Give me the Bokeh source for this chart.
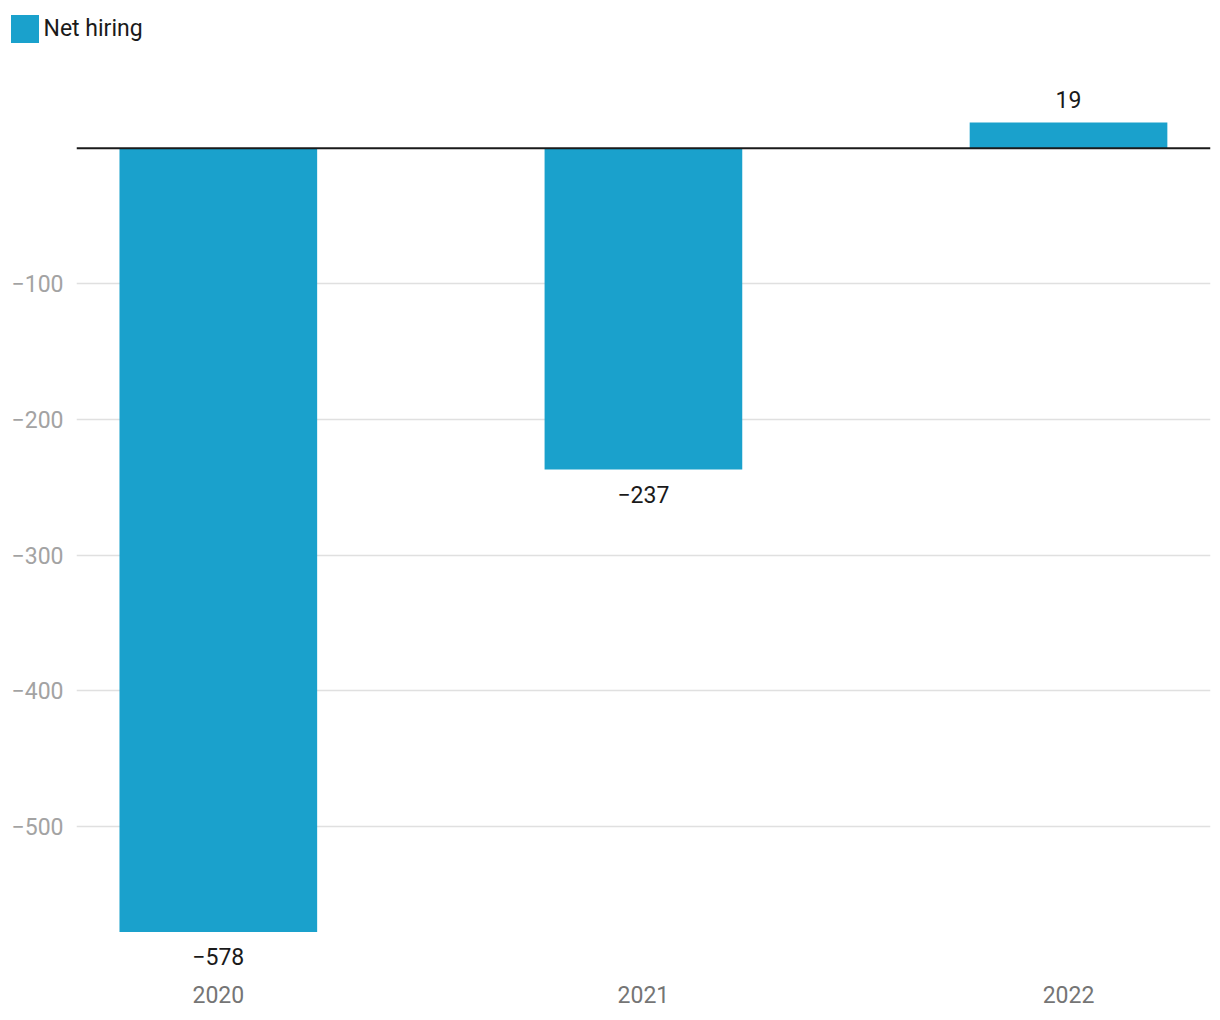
from bokeh.plotting import figure
from bokeh.layouts import column, row
from bokeh.models import ColumnDataSource, Range1d, FixedTicker, Span
from bokeh.embed import file_html
from bokeh.resources import INLINE

# ---- data ----
years = ["2020", "2021", "2022"]
net_hiring = [-578, -237, 19]
y_ticks = [-500, -400, -300, -200, -100]
y_tick_labels = ["\u2212500", "\u2212400", "\u2212300", "\u2212200", "\u2212100"]
series_name = "Net hiring"

BAR = "#1aa1cc"
FONT = "Roboto"
FS = "23px"
W = 1218

xs = list(range(len(years)))
labels = [("\u2212" + str(abs(v))) if v < 0 else str(v) for v in net_hiring]
offsets = [25 if v < 0 else -23 for v in net_hiring]
src = ColumnDataSource(dict(x=xs, y=net_hiring, label=labels, off=offsets))

# ---- main chart ----
p = figure(
    output_backend="svg", toolbar_location=None,
    frame_width=1134, frame_height=920,
    min_border_left=76, min_border_right=8, min_border_top=0, min_border_bottom=43,
    x_range=Range1d(-0.3336, 2.334), y_range=Range1d(-610.1, 68.4),
)
p.outline_line_color = None
p.background_fill_color = "white"

p.vbar(x="x", top="y", bottom=0, width=0.465, source=src,
       fill_color=BAR, line_color=None)

p.add_layout(Span(location=0, dimension="width", line_color="#1a1a1a", line_width=2))

p.text(x="x", y="y", text="label", y_offset="off", source=src,
       text_align="center", text_baseline="middle",
       text_font={"value": FONT}, text_font_size={"value": FS},
       text_color="#1a1a1a")

p.xaxis.ticker = FixedTicker(ticks=xs)
p.xaxis.major_label_overrides = {i: y for i, y in zip(xs, years)}
p.yaxis.ticker = FixedTicker(ticks=y_ticks)
p.yaxis.major_label_overrides = {t: l for t, l in zip(y_ticks, y_tick_labels)}
for ax in (p.xaxis, p.yaxis):
    ax.axis_line_color = None
    ax.major_tick_line_color = None
    ax.minor_tick_line_color = None
    ax.major_tick_out = 0
    ax.major_tick_in = 0
    ax.major_label_text_font = FONT
    ax.major_label_text_font_size = FS
p.xaxis.major_label_text_color = "#757575"
p.xaxis.major_label_standoff = 10
p.yaxis.major_label_text_color = "#a3a3a3"
p.yaxis.major_label_standoff = 13

p.xgrid.grid_line_color = None
p.ygrid.grid_line_color = "#e0e0e0"
p.ygrid.grid_line_width = 1.5

# ---- legend strip on top ----
lgf = figure(
    output_backend="svg", toolbar_location=None,
    width=W, height=55, min_border=0,
    x_axis_location=None, y_axis_location=None,
    x_range=Range1d(-0.3336, 2.334), y_range=Range1d(1000, 1001),
)
lgf.outline_line_color = None
lgf.grid.visible = False
lgf.vbar(x="x", top="y", bottom=0, width=0.465, source=src,
         fill_color=BAR, line_color=None, legend_label=series_name)
lg = lgf.legend[0]
lg.location = (6.5, 9.5)
lg.padding = 0
lg.margin = 0
lg.spacing = 0
lg.glyph_width = 35
lg.glyph_height = 35
lg.label_standoff = 2
lg.border_line_color = None
lg.background_fill_alpha = 0
lg.label_text_font = FONT
lg.label_text_font_size = FS
lg.label_text_color = "#1a1a1a"

layout = column(row(lgf), p, spacing=0)
open("out.html", "w").write(file_html(layout, INLINE))
